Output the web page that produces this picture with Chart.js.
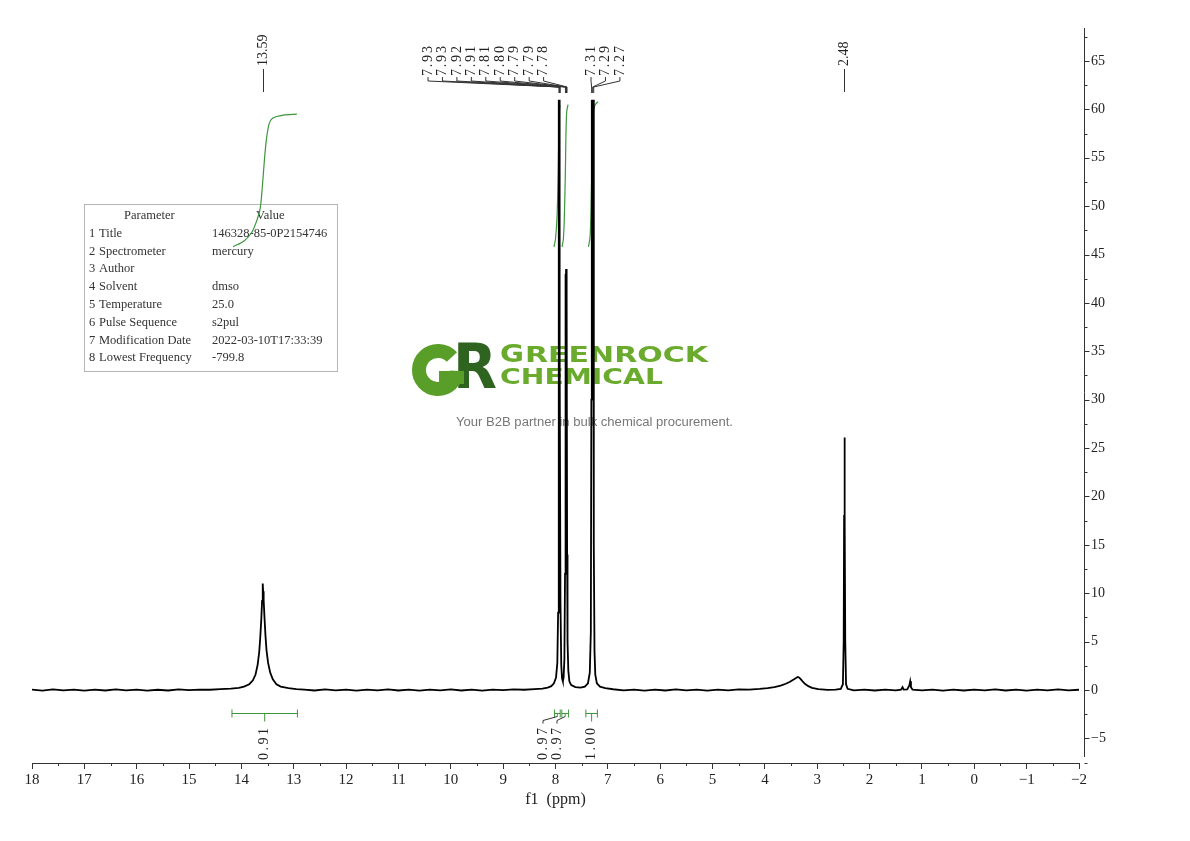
<!DOCTYPE html>
<html>
<head>
<meta charset="utf-8">
<script src="https://cdn.jsdelivr.net/npm/chart.js@4.4.1/dist/chart.umd.min.js"></script>
<style>
    html, body { margin: 0; padding: 0; background: #fff; }
</style>
</head>
<body>
<canvas id="nmrChart" width="1190" height="841"></canvas>
<script>
// spectrum (ppm, intensity)
var specPpm = [18.00, 17.80, 17.60, 17.40, 17.20, 17.00, 16.80, 16.60, 16.40, 16.20, 16.00, 15.80, 15.60, 15.40, 15.20, 15.00, 14.80, 14.60, 14.40, 14.20,
    14.05, 13.95, 13.85, 13.78, 13.73, 13.69, 13.66, 13.64, 13.62, 13.605, 13.595, 13.59, 13.585, 13.575, 13.56, 13.54, 13.52, 13.49, 13.45, 13.40,
    13.33, 13.25, 13.10, 12.95, 12.80, 12.60, 12.40, 12.20, 12.00, 11.80, 11.60, 11.40, 11.20, 11.00, 10.80, 10.60, 10.40, 10.20, 10.00, 9.80,
    9.60, 9.40, 9.20, 9.00, 8.80, 8.60, 8.40, 8.25, 8.15, 8.08, 8.03, 7.99, 7.965, 7.95, 7.94, 7.935, 7.93, 7.926, 7.922, 7.915,
    7.905, 7.89, 7.875, 7.86, 7.845, 7.83, 7.818, 7.81, 7.805, 7.798, 7.79, 7.785, 7.778, 7.77, 7.755, 7.735, 7.70, 7.62, 7.52, 7.44,
    7.38, 7.345, 7.325, 7.315, 7.31, 7.303, 7.295, 7.288, 7.28, 7.272, 7.265, 7.255, 7.24, 7.21, 7.15, 7.05, 6.90, 6.70, 6.50, 6.30,
    6.10, 5.90, 5.70, 5.50, 5.30, 5.10, 4.90, 4.70, 4.50, 4.30, 4.10, 3.95, 3.82, 3.70, 3.60, 3.52, 3.46, 3.42, 3.39, 3.37,
    3.35, 3.32, 3.28, 3.23, 3.17, 3.10, 2.98, 2.80, 2.65, 2.55, 2.51, 2.495, 2.487, 2.48, 2.473, 2.465, 2.45, 2.42, 2.30, 2.10, 1.90, 1.70,
    1.50, 1.40, 1.37, 1.35, 1.28, 1.24, 1.225, 1.21, 1.18, 1.00, 0.80, 0.60, 0.40, 0.20, 0.00, -0.20, -0.40, -0.60, -0.80, -1.00,
    -1.20, -1.40, -1.60, -1.80, -2.00];
var specInt = [0.04, -0.06, 0.07, -0.03, 0.05, -0.07, 0.04, -0.05, 0.06, -0.04, 0.05, -0.06, 0.03, -0.05, 0.06, -0.02, 0.05, 0.03, 0.09, 0.14,
    0.22, 0.35, 0.6, 1.0, 1.6, 2.6, 3.9, 5.4, 7.3, 9.2, 10.2, 11.0, 10.2, 9.3, 7.6, 5.6, 4.1, 2.8, 1.8, 1.1,
    0.6, 0.35, 0.2, 0.1, 0.04, -0.05, 0.06, -0.04, 0.05, -0.06, 0.04, -0.03, 0.06, -0.05, 0.04, -0.06, 0.05, -0.03, 0.06, -0.05,
    0.04, -0.06, 0.05, -0.02, 0.06, 0.03, 0.1, 0.15, 0.25, 0.4, 0.7, 1.3, 2.8, 8.0, 30, 61.0, 52, 57, 61.0, 35,
    9, 2.6, 1.2, 0.9, 1.3, 3.2, 12, 43.0, 36, 43.5, 38, 41, 14, 5, 2.0, 0.9, 0.5, 0.3, 0.25, 0.35,
    0.7, 1.8, 6, 30, 61.0, 52, 61.0, 58, 61.0, 45, 15, 4, 1.6, 0.7, 0.35, 0.2, 0.08, -0.04, 0.05, -0.06,
    0.04, -0.05, 0.06, -0.03, 0.05, -0.06, 0.04, -0.04, 0.06, 0.05, 0.12, 0.2, 0.3, 0.45, 0.65, 0.85, 1.05, 1.2, 1.3, 1.35,
    1.3, 1.15, 0.9, 0.62, 0.4, 0.22, 0.1, 0.02, 0.05, 0.12, 0.6, 5, 18, 26.1, 18, 5, 0.6, 0.12, -0.04, 0.05, -0.05, 0.04,
    -0.03, 0.05, 0.3, 0.05, 0.06, 0.5, 0.9, 0.3, 0.05, -0.04, 0.05, -0.06, 0.04, -0.05, 0.05, -0.04, 0.06, -0.05, 0.04, -0.06,
    0.05, -0.03, 0.06, -0.04, 0.03];

// integral curves
var int1Ppm = [14.16, 13.95, 13.8, 13.7, 13.64, 13.6, 13.56, 13.52, 13.47, 13.4, 13.2, 12.94];
var int1Y = [45.8, 46.4, 47.3, 48.6, 49.8, 52, 54.8, 57, 58.5, 59.1, 59.4, 59.5];
var int2Ppm = [8.03, 8.0, 7.97, 7.95, 7.94, 7.93, 7.915];
var int2Y = [45.8, 46.6, 49, 53, 56.5, 59.6, 60.4];
var int3Ppm = [7.875, 7.85, 7.83, 7.81, 7.80, 7.785, 7.76];
var int3Y = [45.8, 46.6, 49, 54, 57.5, 59.8, 60.5];
var int4Ppm = [7.37, 7.34, 7.32, 7.30, 7.285, 7.25, 7.19];
var int4Y = [45.8, 46.8, 50, 55.5, 59.2, 60.4, 60.8];

// integral regions and values
var intFrom = [14.18, 8.02, 7.88, 7.42];
var intTo = [12.93, 7.91, 7.75, 7.20];
var intValues = ['0.91', '0.97', '0.97', '1.00'];

// peak picks
var peakPpm = [13.59, 7.93, 7.93, 7.92, 7.91, 7.81, 7.80, 7.79, 7.79, 7.78, 7.31, 7.29, 7.27, 2.48];
var peakText = ['13.59', '7.93', '7.93', '7.92', '7.91', '7.81', '7.80', '7.79', '7.79', '7.78', '7.31', '7.29', '7.27', '2.48'];
var peakGroup = [0, 1, 1, 1, 1, 1, 1, 1, 1, 1, 2, 2, 2, 3];

var xTicks = [18, 17, 16, 15, 14, 13, 12, 11, 10, 9, 8, 7, 6, 5, 4, 3, 2, 1, 0, -1, -2];
var yTicks = [-5, 0, 5, 10, 15, 20, 25, 30, 35, 40, 45, 50, 55, 60, 65];

var paramNames = ['Title', 'Spectrometer', 'Author', 'Solvent', 'Temperature', 'Pulse Sequence', 'Modification Date', 'Lowest Frequency'];
var paramValues = ['146328-85-0P2154746', 'mercury', '', 'dmso', '25.0', 's2pul', '2022-03-10T17:33:39', '-799.8'];

var GREEN = '#3c963c';
var INK = '#222';

function pts(xs, ys) {
    return xs.map(function (v, i) { return { x: v, y: ys[i] }; });
}

function fitText(ctx, txt, x, y, w, font) {
    ctx.font = font;
    var m = ctx.measureText(txt).width;
    ctx.save();
    ctx.translate(x, y);
    ctx.scale(w / m, 1);
    ctx.fillText(txt, 0, 0);
    ctx.restore();
}

function vText(ctx, txt, x, y) {
    // rotated text, reading bottom to top, starting at y
    ctx.save();
    ctx.translate(x, y);
    ctx.rotate(-Math.PI / 2);
    ctx.textAlign = 'left';
    ctx.textBaseline = 'middle';
    ctx.fillText(txt, 0, 0);
    ctx.restore();
}

function line(ctx, x1, y1, x2, y2) {
    ctx.beginPath();
    ctx.moveTo(x1, y1);
    ctx.lineTo(x2, y2);
    ctx.stroke();
}

var nmrDecor = {
    id: 'nmrDecor',
    beforeDraw: function (chart) {
        var ctx = chart.ctx;
        ctx.save();
        ctx.fillStyle = '#fff';
        ctx.fillRect(0, 0, chart.width, chart.height);
        ctx.restore();
    },
    beforeDatasetsDraw: function (chart) {
        var ctx = chart.ctx;
        ctx.save();

        // watermark logo
        ctx.fillStyle = '#2f6420';
        fitText(ctx, 'R', 453, 388, 44, 'bold 62px "DejaVu Sans"');
        ctx.strokeStyle = '#5a9e2a';
        ctx.lineWidth = 14;
        ctx.beginPath();
        ctx.arc(438, 370, 19, 0.05, -0.75, false);
        ctx.stroke();
        ctx.fillStyle = '#5a9e2a';
        ctx.fillRect(439, 371, 25, 13);
        ctx.fillStyle = '#6aab2e';
        fitText(ctx, 'G', 500, 362, 24, 'bold 25px "DejaVu Sans"');
        fitText(ctx, 'REENROCK', 525, 362, 183, 'bold 21px "DejaVu Sans"');
        fitText(ctx, 'CHEMICAL', 500, 384, 163, 'bold 21px "DejaVu Sans"');
        ctx.fillStyle = '#777';
        ctx.textBaseline = 'alphabetic';
        fitText(ctx, 'Your B2B partner in bulk chemical procurement.', 456, 426, 277, '12.5px "Liberation Sans"');

        // parameter table
        ctx.fillStyle = '#fff';
        ctx.fillRect(84, 204, 253, 167);
        ctx.strokeStyle = '#b5b5b5';
        ctx.lineWidth = 1;
        ctx.strokeRect(84.5, 204.5, 253, 167);
        ctx.fillStyle = '#333';
        ctx.font = '12.5px "Liberation Serif"';
        ctx.textBaseline = 'middle';
        ctx.textAlign = 'left';
        ctx.fillText('Parameter', 124, 216);
        ctx.fillText('Value', 256, 216);
        paramNames.forEach(function (n, i) {
            var y = 233.5 + i * 17.8;
            ctx.fillText(String(i + 1), 89, y);
            ctx.fillText(n, 99, y);
            ctx.fillText(paramValues[i], 212, y);
        });
        ctx.restore();
    },
    afterDatasetsDraw: function (chart) {
        var ctx = chart.ctx;
        var xs = chart.scales.x;
        var ys = chart.scales.y;
        ctx.save();

        // x minor ticks
        ctx.strokeStyle = '#333';
        ctx.lineWidth = 1;
        var xb = chart.chartArea.bottom;
        for (var v = 17.5; v > -2; v -= 1) {
            var px = Math.round(xs.getPixelForValue(v)) + 0.5;
            line(ctx, px, xb, px, xb + 3);
        }

        // y axis, drawn a little right of the plot edge
        var ax = chart.chartArea.right + 5.5;
        line(ctx, ax, chart.chartArea.top - 2, ax, xb - 6);
        for (var t = -7.5; t <= 67.5; t += 2.5) {
            var py = Math.round(ys.getPixelForValue(t)) + 0.5;
            var major = (t % 5 === 0);
            line(ctx, ax, py, ax + (major ? 5 : 3), py);
        }

        // peak labels
        ctx.fillStyle = INK;
        ctx.strokeStyle = '#333';
        ctx.font = '14px "Liberation Serif"';
        var groupStart = [null, 428, 591, null];
        var groupCount = [0, 0, 0, 0];
        peakPpm.forEach(function (p, i) {
            var g = peakGroup[i];
            var px = xs.getPixelForValue(p);
            if (groupStart[g] === null) {
                var lx = Math.round(px) + 0.5;
                ctx.letterSpacing = '0px';
                line(ctx, lx, 69, lx, 92);
                vText(ctx, peakText[i], lx, 66);
            } else {
                var lx2 = groupStart[g] + groupCount[g] * 14.45;
                groupCount[g]++;
                ctx.letterSpacing = '1.8px';
                vText(ctx, peakText[i], lx2, 76);
                line(ctx, lx2, 77, lx2, 81);
                line(ctx, lx2, 81, px, 87);
                line(ctx, px, 87, px, 93);
            }
        });

        // integral bars and values
        ctx.letterSpacing = '2.5px';
        var by = Math.round(ys.getPixelForValue(-2.4)) + 0.5;
        var labelX = [null, 543, 557, null];
        intFrom.forEach(function (f, i) {
            var x1 = xs.getPixelForValue(f);
            var x2 = xs.getPixelForValue(intTo[i]);
            var xc = (x1 + x2) / 2;
            ctx.strokeStyle = GREEN;
            line(ctx, x1, by, x2, by);
            line(ctx, x1, by - 4, x1, by + 4);
            line(ctx, x2, by - 4, x2, by + 4);
            var lx = labelX[i] === null ? xc : labelX[i];
            if (labelX[i] === null) {
                line(ctx, xc, by, xc, by + 8);
            } else {
                line(ctx, xc, by, xc, by + 3);
                ctx.strokeStyle = '#333';
                line(ctx, xc, by + 3, lx, by + 7);
                line(ctx, lx, by + 7, lx, by + 10);
            }
            ctx.fillStyle = INK;
            vText(ctx, intValues[i], lx, 760);
        });
        ctx.letterSpacing = '0px';
        ctx.restore();
    }
};

var ctx = document.getElementById('nmrChart');
var nmrChart = new Chart(ctx, {
    type: 'line',
    data: {
        datasets: [{
            label: 'spectrum',
            data: pts(specPpm, specInt),
            borderColor: '#000',
            borderWidth: 1.8,
            pointRadius: 0,
            tension: 0
        }, {
            label: 'int1', data: pts(int1Ppm, int1Y), borderColor: GREEN, borderWidth: 1.2, pointRadius: 0, tension: 0.3
        }, {
            label: 'int2', data: pts(int2Ppm, int2Y), borderColor: GREEN, borderWidth: 1.2, pointRadius: 0, tension: 0.3
        }, {
            label: 'int3', data: pts(int3Ppm, int3Y), borderColor: GREEN, borderWidth: 1.2, pointRadius: 0, tension: 0.3
        }, {
            label: 'int4', data: pts(int4Ppm, int4Y), borderColor: GREEN, borderWidth: 1.2, pointRadius: 0, tension: 0.3
        }]
    },
    options: {
        responsive: false,
        animation: false,
        devicePixelRatio: 1,
        layout: { padding: { left: 32, top: 30, right: 0, bottom: 0 } },
        plugins: { legend: { display: false }, tooltip: { enabled: false } },
        scales: {
            x: {
                type: 'linear',
                reverse: true,
                min: -2,
                max: 18,
                afterBuildTicks: function (s) { s.ticks = xTicks.map(function (v) { return { value: v }; }); },
                afterFit: function (s) { s.height = 78; },
                grid: { drawOnChartArea: false, drawTicks: true, tickLength: 6, color: '#333' },
                border: { display: true, color: '#333', width: 1 },
                ticks: {
                    autoSkip: false, maxRotation: 0, padding: 2, color: INK,
                    font: { family: 'Liberation Serif', size: 15 },
                    callback: function (v) { return String(v).replace('-', '\u2212'); }
                },
                title: {
                    display: true, text: 'f1  (ppm)', color: INK,
                    font: { family: 'Liberation Serif', size: 16 },
                    padding: { top: 0, bottom: 32 }
                }
            },
            y: {
                position: 'right',
                min: -7.54,
                max: 68.2,
                afterBuildTicks: function (s) { s.ticks = yTicks.map(function (v) { return { value: v }; }); },
                afterFit: function (s) { s.width = 111; },
                grid: { display: false, drawTicks: false },
                border: { display: false },
                ticks: {
                    padding: 12, color: INK,
                    font: { family: 'Liberation Serif', size: 14 },
                    callback: function (v) { return String(v).replace('-', '\u2212'); }
                }
            }
        }
    },
    plugins: [nmrDecor]
});
</script>
</body>
</html>
